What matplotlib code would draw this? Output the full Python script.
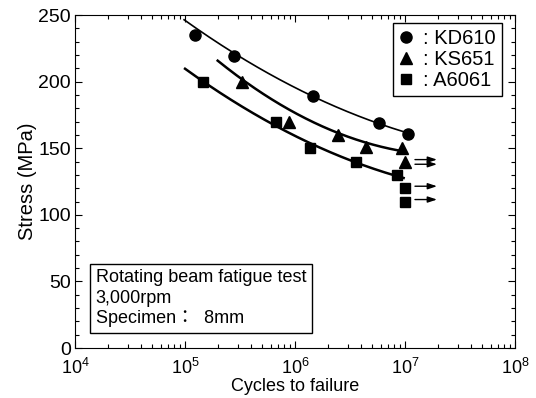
import matplotlib
matplotlib.use("Agg")
import matplotlib.pyplot as plt
from matplotlib.lines import Line2D
from matplotlib.ticker import MultipleLocator, LogLocator, NullFormatter
import numpy as np

plt.rcParams['font.family'] = ['Liberation Sans', 'Noto Sans CJK JP', 'DejaVu Sans']
plt.rcParams['mathtext.fontset'] = 'custom'
plt.rcParams['mathtext.rm'] = 'Liberation Sans'
plt.rcParams['mathtext.default'] = 'regular'

# data (cycles, MPa)
kd610_n = [1.23e5, 2.8e5, 1.47e6, 5.8e6, 1.06e7]
kd610_s = [235, 219, 189, 169, 161]
ks651_n = [3.27e5, 8.8e5, 2.44e6, 4.4e6, 9.3e6]
ks651_s = [200, 170, 160, 151, 150]
a6061_n = [1.45e5, 6.7e5, 1.37e6, 3.6e6, 8.4e6]
a6061_s = [200, 170, 150, 140, 130]

# run-outs (no failure) at 1e7 cycles
runout_ks_n = [1.0e7]
runout_ks_s = [140]
runout_a_n = [1.0e7, 1.0e7]
runout_a_s = [120, 110]
arrow_s = [141.5, 138, 121.5, 111.5]

# S-N trend lines
kd610_trend_n = [0.98e5, 2.85e5, 1.49e6, 5.8e6, 1.06e7]
kd610_trend_s = [247, 220, 189, 169, 161]
ks651_trend_n = [1.98e5, 3.4e5, 8.8e5, 2.44e6, 4.4e6, 9.7e6]
ks651_trend_s = [216.7, 200, 178, 163.7, 153.6, 147.4]
a6061_trend_n = [1.0e5, 1.45e5, 6.7e5, 1.37e6, 3.6e6, 9.7e6]
a6061_trend_s = [210, 200, 168, 151, 141.7, 126.9]

fig = plt.figure(figsize=(5.36, 3.98), dpi=100)
ax = fig.add_axes([0.14, 0.1256, 0.821, 0.8364])

def smooth(n, s):
    p = np.polyfit(np.log10(n), s, 2)
    xx = np.linspace(np.log10(n[0]), np.log10(n[-1]), 200)
    return 10**xx, np.polyval(p, xx)

for n, s, lw in [(kd610_trend_n, kd610_trend_s, 1.2),
                 (ks651_trend_n, ks651_trend_s, 1.8),
                 (a6061_trend_n, a6061_trend_s, 1.8)]:
    xc, yc = smooth(n, s)
    ax.plot(xc, yc, color='black', lw=lw, zorder=2)

ms = 8
ax.plot(kd610_n, kd610_s, 'o', color='black', ms=ms, zorder=3)
ax.plot(ks651_n + runout_ks_n, ks651_s + runout_ks_s, '^', color='black', ms=ms, zorder=3)
ax.plot(a6061_n + runout_a_n, a6061_s + runout_a_s, 's', color='black', ms=ms - 0.3, zorder=3)

for s in arrow_s:
    ax.annotate('', xy=(1.95e7, s), xytext=(1.23e7, s),
                arrowprops=dict(arrowstyle='-|>,head_length=0.6,head_width=0.2', color='black',
                                lw=1.0, mutation_scale=9, shrinkA=0, shrinkB=0))

ax.set_xscale('log')
ax.set_xlim(1e4, 1e8)
ax.set_ylim(0, 250)
ax.xaxis.set_minor_locator(LogLocator(base=10, subs=np.arange(2, 10), numticks=10))
ax.xaxis.set_minor_formatter(NullFormatter())
ax.set_xticks([1e4, 1e5, 1e6, 1e7, 1e8])
ax.set_xticklabels(['$10^{4}$', '$10^{5}$', '$10^{6}$', '$10^{7}$', '$10^{8}$'])
ax.yaxis.set_major_locator(MultipleLocator(50))
ax.yaxis.set_minor_locator(MultipleLocator(10))
ax.tick_params(which='both', direction='in', top=True, right=True, width=0.8)
ax.tick_params(which='major', length=5)
ax.tick_params(which='minor', length=3)
ax.tick_params(axis='x', labelsize=13, pad=7)
ax.tick_params(axis='y', labelsize=14, pad=3)
for sp in ax.spines.values():
    sp.set_linewidth(0.8)

ax.set_xlabel('Cycles to failure', fontsize=13, labelpad=0)
ax.set_ylabel('Stress (MPa)', fontsize=14.5, labelpad=1)

handles = [Line2D([], [], ls='none', marker='o', color='black', ms=ms),
           Line2D([], [], ls='none', marker='^', color='black', ms=ms),
           Line2D([], [], ls='none', marker='s', color='black', ms=ms - 0.3)]
leg = ax.legend(handles, [': KD610', ': KS651', ': A6061'], loc='upper right',
                bbox_to_anchor=(0.9705, 0.977), borderaxespad=0,
                fontsize=14.5, handlelength=0.7, handletextpad=0.5,
                labelspacing=0.1, borderpad=0.3,
                fancybox=False, framealpha=1, edgecolor='black')
leg.get_frame().set_linewidth(1.0)

ax.text(0.047, 0.062, 'Rotating beam fatigue test\n3,000rpm\nSpecimen：  8mm',
        transform=ax.transAxes, fontsize=13, linespacing=1.28, va='bottom', ha='left',
        bbox=dict(boxstyle='square,pad=0.3', fc='white', ec='black', lw=1.0))

fig.savefig('out.png', dpi=100)
